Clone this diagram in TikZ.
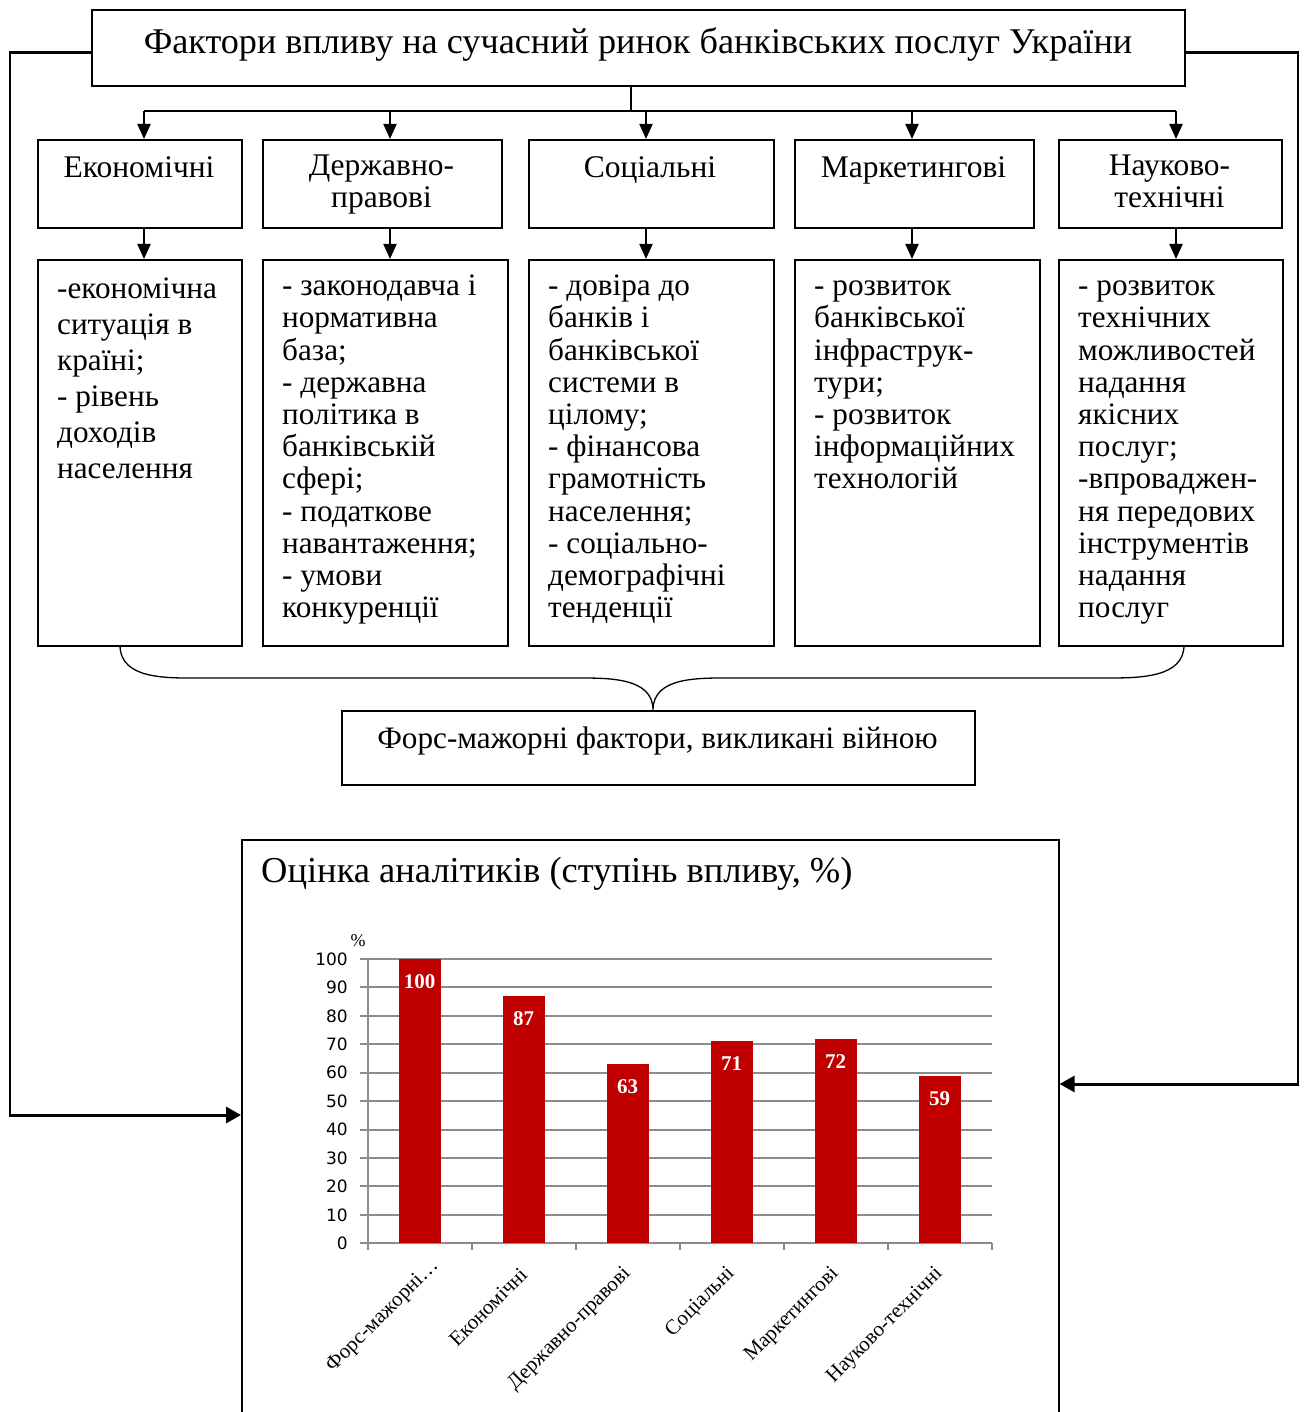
\documentclass[tikz,border=0pt]{standalone}
\usepackage{fontspec}
\setmainfont{Liberation Serif}
\newfontfamily\axisfont{DejaVu Sans}
\usetikzlibrary{arrows.meta}
\definecolor{gridgray}{RGB}{140,140,140}
\definecolor{barred}{RGB}{192,0,0}
\newcommand\mystrut{\rule{0pt}{23pt}}
\begin{document}
\begin{tikzpicture}[x=1pt,y=-1pt,
  boxst/.style={draw=black, line width=1.6pt, inner sep=0pt, anchor=north west},
  conn/.style={draw=black, line width=2pt},
  arr/.style={conn, -{Triangle[length=15pt,width=13pt]}},
  fbv/.style={conn, line width=2.2pt},
  fbh/.style={conn, line width=3pt, -{Triangle[length=15pt,width=16pt]}},
  bracel/.style={draw=black, line width=1.3pt},
  cattext/.style={inner sep=0pt, anchor=north, align=center, font=\fontsize{31.5}{32}\selectfont},
  dettext/.style={inner sep=0pt, anchor=north west, align=left, font=\fontsize{31.2}{#1}\selectfont},
  gridln/.style={draw=gridgray, line width=2pt},
  barfill/.style={fill=barred},
  vlabel/.style={inner sep=0pt, anchor=base, text=white, font=\fontsize{21}{21}\selectfont\bfseries},
  ylabel/.style={inner sep=0pt, anchor=east, font=\axisfont\fontsize{17}{17}\selectfont},
  xlabel/.style={inner sep=0pt, anchor=east, rotate=45, font=\fontsize{21}{21}\selectfont},
]
\useasboundingbox (0,0) rectangle (1305,1412);
\clip (0,0) rectangle (1305,1412);

% title
\node[boxst, minimum width=1093, minimum height=76] (title) at (91,9) {};
\node[inner sep=0pt, anchor=base, font=\fontsize{36.2}{40}\selectfont] (titletext) at (638,54)
  {Фактори впливу на сучасний ринок банківських послуг України};

% category boxes
\node[boxst, minimum width=204, minimum height=88] (cat1) at (37,139) {};
\node[boxst, minimum width=239, minimum height=88] (cat2) at (262,139) {};
\node[boxst, minimum width=245, minimum height=88] (cat3) at (528,139) {};
\node[boxst, minimum width=239, minimum height=88] (cat4) at (794,139) {};
\node[boxst, minimum width=223, minimum height=88] (cat5) at (1058,139) {};

\node[cattext] (ct1) at (139,154) {\mystrut Економічні};
\node[cattext] (ct2) at (381.5,152) {\mystrut Державно-\\правові};
\node[cattext] (ct3) at (650,154) {\mystrut Соціальні};
\node[cattext] (ct4) at (913.5,154) {\mystrut Маркетингові};
\node[cattext] (ct5) at (1169.5,152) {\mystrut Науково-\\технічні};

% detail boxes
\node[boxst, minimum width=204, minimum height=386] (det1) at (37,259) {};
\node[boxst, minimum width=245, minimum height=386] (det2) at (262,259) {};
\node[boxst, minimum width=245, minimum height=386] (det3) at (528,259) {};
\node[boxst, minimum width=245, minimum height=386] (det4) at (794,259) {};
\node[boxst, minimum width=224, minimum height=386] (det5) at (1058,259) {};

\node[dettext=36] (dt1) at (57,275) {\mystrut -економічна\\ситуація в\\країні;\\- рівень\\доходів\\населення};
\node[dettext=32.2] (dt2) at (282,272.5) {\mystrut - законодавча і\\нормативна\\база;\\- державна\\політика в\\банківській\\сфері;\\- податкове\\навантаження;\\- умови\\конкуренції};
\node[dettext=32.2] (dt3) at (548,272.5) {\mystrut - довіра до\\банків і\\банківської\\системи в\\цілому;\\- фінансова\\грамотність\\населення;\\- соціально-\\демографічні\\тенденції};
\node[dettext=32.2] (dt4) at (814,272.5) {\mystrut - розвиток\\банківської\\інфраструк-\\тури;\\- розвиток\\інформаційних\\технологій};
\node[dettext=32.2] (dt5) at (1078,272.5) {\mystrut - розвиток\\технічних\\можливостей\\надання\\якісних\\послуг;\\-впроваджен-\\ня передових\\інструментів\\надання\\послуг};

% bus and arrows
\coordinate (bus) at (631,111);
\coordinate (b1) at (144,111);
\coordinate (b2) at (390,111);
\coordinate (b3) at (646,111);
\coordinate (b4) at (912,111);
\coordinate (b5) at (1176,111);
\draw[conn] (bus |- title.south) -- (bus);
\draw[conn] (b1) -- (b5);
\foreach \i in {1,...,5}{
  \draw[arr] (b\i) -- (b\i |- cat\i.north);
  \draw[arr] (b\i |- cat\i.south) -- (b\i |- det\i.north);
}

% force majeure box and brace
\node[boxst, minimum width=633, minimum height=74] (force) at (341,710) {};
\node[inner sep=0pt, anchor=base, font=\fontsize{31.2}{34}\selectfont] (forcetext) at (657.5,748)
  {Форс-мажорні фактори, викликані війною};
\coordinate (brL) at (120,645);
\coordinate (brR) at (1184,645);
\coordinate (tip) at (653,710);
\draw[bracel] (brL) to[out=-90,in=180] (205,678) -- (575,678) to[out=0,in=90] (tip)
  to[out=90,in=180] (733,678) -- (1107,678) to[out=0,in=-90] (brR);

% chart frame
\node[boxst, minimum width=817, minimum height=620] (chart) at (241,839) {};
\node[inner sep=0pt, anchor=base west, font=\fontsize{36.5}{40}\selectfont] (charttitle) at (261,882)
  {Оцінка аналітиків (ступінь впливу, \%)};

% feedback connectors
\coordinate (L1) at (10,1115);
\coordinate (R1) at (1298,1084);
\draw[fbv] ([yshift=-4.7pt]title.west) -| ([yshift=-1pt]L1);
\draw[fbh] ([xshift=-1.1pt]L1) -- (chart.west |- L1);
\draw[fbv] ([yshift=-4.7pt]title.east) -| ([yshift=-1pt]R1);
\draw[fbh] ([xshift=1.1pt]R1) -- (chart.east |- R1);

% chart
\def\yz{1243.3}
\def\ys{2.843}
\foreach \v [count=\i] in {0,10,...,100}{
  \draw[gridln] (360,{\yz-\ys*\v}) -- (991.7,{\yz-\ys*\v});
  \node[ylabel] (yl\i) at (348,{\yz-\ys*\v}) {\v};
}
\draw[gridln] (367.7,959) -- (367.7,\yz);
\foreach \k in {0,...,6}{
  \draw[gridln] ({367.7+104*\k},\yz) -- ({367.7+104*\k},1249.5);
}
\node[inner sep=0pt, font=\fontsize{18}{18}\selectfont] (pct) at (358,941) {\%};
\foreach \v/\lab/\dx/\dy [count=\i] in {100/{Форс-мажорні…}/16/-8,87/{Економічні}/0/0,63/{Державно-правові}/0/0,71/{Соціальні}/0/0,72/{Маркетингові}/0/0,59/{Науково-технічні}/0/0}{
  \pgfmathsetmacro\cx{367.7+52+104*(\i-1)}
  \pgfmathsetmacro\top{\yz-\ys*\v}
  \fill[barfill] ({\cx-21},\top) rectangle ({\cx+21},\yz);
  \node[vlabel] (val\i) at (\cx,{\top+29.5}) {\v};
  \node[xlabel] (xl\i) at ({\cx+\dx},{1271+\dy}) {\lab};
}
\end{tikzpicture}
\end{document}
